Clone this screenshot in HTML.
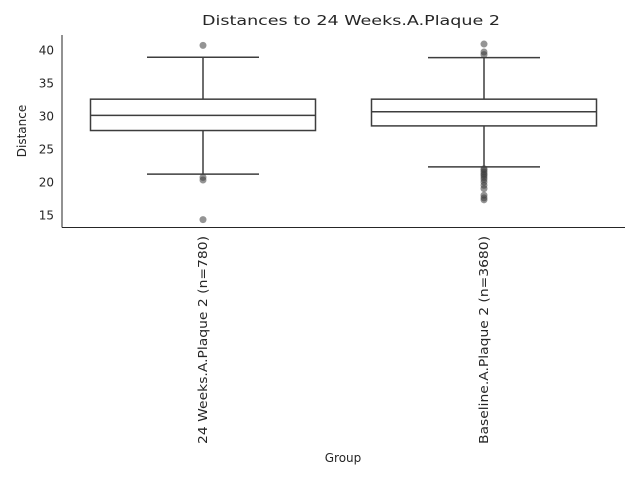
<!DOCTYPE html>
<html><head><meta charset="utf-8"><style>body{margin:0;background:#fff}svg{display:block;font-family:"DejaVu Sans","Liberation Sans",sans-serif}</style></head>
<body>
<svg id="chart" width="640" height="480"></svg>
<script>
const categories=["24 Weeks.A.Plaque 2 (n=780)","Baseline.A.Plaque 2 (n=3680)"];
const q1=[27.8,28.5];
const medians=[30.1,30.65];
const q3=[32.55,32.55];
const whiskLo=[21.2,22.3];
const whiskHi=[38.9,38.85];
const outliers=[[40.7,20.7,20.3,14.3],[40.9,39.7,39.3,22.0,21.8,21.5,21.2,21.0,20.7,20.4,20.0,19.5,19.0,18.0,17.6,17.3]];
const yTicks=[15,20,25,30,35,40];
const NS="http://www.w3.org/2000/svg";
const svg=document.getElementById('chart');
const y=v=>50+(40-v)*6.6;
const xc=i=>203+i*281;
function mk(t,a,p){const e=document.createElementNS(NS,t);for(const k in a)e.setAttribute(k,a[k]);(p||svg).appendChild(e);return e;}
const title=mk('text',{x:351,y:25,'text-anchor':'middle','font-size':13,fill:'#262626',textLength:298,lengthAdjust:'spacingAndGlyphs'});title.textContent="Distances to 24 Weeks.A.Plaque 2";


const axL=mk('line',{x1:62,y1:35,x2:62,y2:227.5,stroke:'#262626','stroke-width':1});


const axB=mk('line',{x1:62,y1:227.5,x2:625,y2:227.5,stroke:'#262626','stroke-width':1});


yTicks.forEach(t=>{const e=mk('text',{x:54,y:y(t)+4.5,'text-anchor':'end','font-size':12,fill:'#262626'});e.textContent=t;

});
const yt=mk('text',{x:0,y:0,transform:'translate(26,131) rotate(-90)','text-anchor':'middle','font-size':12,fill:'#262626'});yt.textContent="Distance";


const xt=mk('text',{x:343,y:462,'text-anchor':'middle','font-size':12,fill:'#262626'});xt.textContent="Group";


categories.forEach((c,i)=>{
 const cx=xc(i),hw=112.5,c2='#3d3d3d';
 const g=mk('g',{});
 
 
 mk('line',{x1:cx,x2:cx,y1:y(q3[i]),y2:y(whiskHi[i]),stroke:c2,'stroke-width':1.5},g);
 mk('line',{x1:cx,x2:cx,y1:y(q1[i]),y2:y(whiskLo[i]),stroke:c2,'stroke-width':1.5},g);
 mk('line',{x1:cx-56,x2:cx+56,y1:y(whiskHi[i]),y2:y(whiskHi[i]),stroke:c2,'stroke-width':1.5},g);
 mk('line',{x1:cx-56,x2:cx+56,y1:y(whiskLo[i]),y2:y(whiskLo[i]),stroke:c2,'stroke-width':1.5},g);
 mk('rect',{x:cx-hw,y:y(q3[i]),width:hw*2,height:y(q1[i])-y(q3[i]),fill:'#fff',stroke:c2,'stroke-width':1.5},g);
 mk('line',{x1:cx-hw,x2:cx+hw,y1:y(medians[i]),y2:y(medians[i]),stroke:c2,'stroke-width':1.5},g);
 outliers[i].forEach(v=>{const o=mk('circle',{cx:cx,cy:y(v),r:3.5,fill:'#3d3d3d','fill-opacity':0.55},g);
 
 });
 const l=mk('text',{x:0,y:0,transform:`translate(${cx+4},236) rotate(-90)`,'text-anchor':'end','font-size':12,fill:'#262626',textLength:208,lengthAdjust:'spacingAndGlyphs'});l.textContent=c;
 
 
});
</script>
</body></html>
